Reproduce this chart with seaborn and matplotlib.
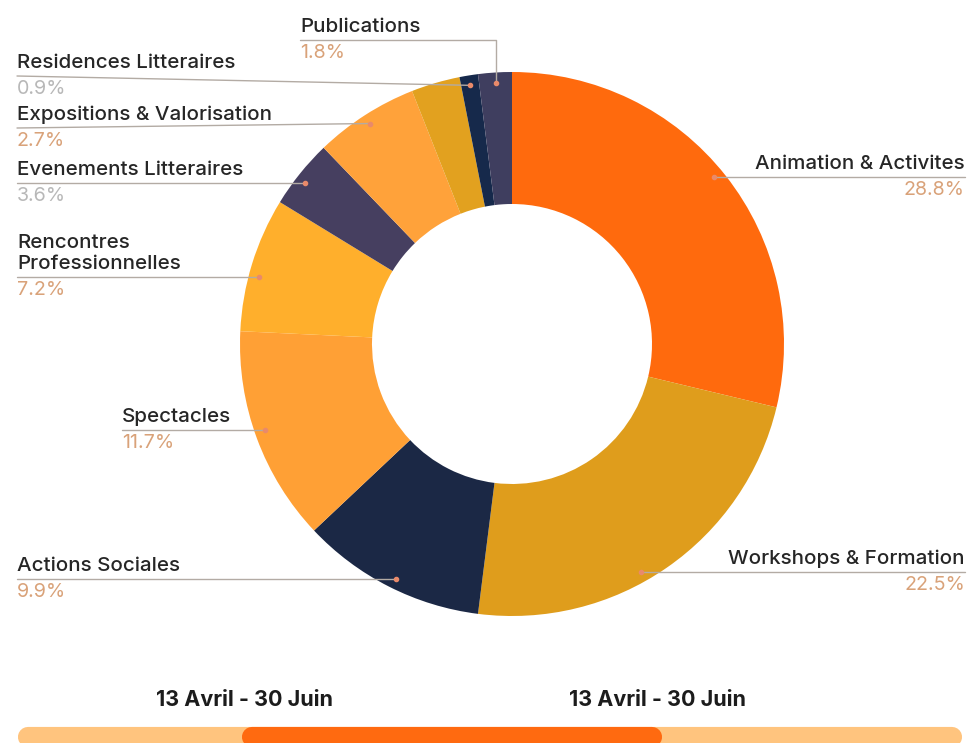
import numpy as np
import seaborn as sns
import matplotlib.pyplot as plt

# tranches du donut, dans le sens horaire depuis midi (parts)
parts = [28.8, 23.3, 11.0, 12.8, 8.0, 4.1, 6.2, 2.9, 1.1, 2.0]
couleurs = ["#FF6A0D", "#DF9D1C", "#1B2845", "#FFA035", "#FFAF2C",
            "#463F60", "#FFA23A", "#E2A11F", "#16294B", "#3F3E5F"]

# étiquettes : indice de tranche, nom, pourcentage affiché
noms = ["Animation & Activites", "Workshops & Formation", "Actions Sociales",
        "Spectacles", "Rencontres\nProfessionnelles", "Evenements Litteraires",
        "Expositions & Valorisation", "Residences Litteraires", "Publications"]
indices = [0, 1, 2, 3, 4, 5, 6, 8, 9]
pourcents = ["28.8%", "22.5%", "9.9%", "11.7%", "7.2%", "3.6%", "2.7%", "0.9%", "1.8%"]

periode = "13 Avril - 30 Juin"

W, H = 969, 743
sns.set_theme(style="white")
plt.rcParams["font.family"] = ["Inter", "DejaVu Sans"]

fig = plt.figure(figsize=(W / 100, H / 100), dpi=100)
ax = fig.add_axes([0, 0, 1, 1])

cx, cy = 512, H - 344
R, r_in = 272, 140
r_pt = 262
wedges, _ = ax.pie(parts, colors=couleurs, startangle=90, counterclock=False,
                   radius=R, center=(cx, cy),
                   wedgeprops=dict(width=R - r_in, edgecolor="none"))

def milieu(i):
    w = wedges[i]
    a = np.deg2rad((w.theta1 + w.theta2) / 2)
    return cx + r_pt * np.cos(a), cy + r_pt * np.sin(a)

def sur_ligne(y, cote):
    dx = np.sqrt(r_pt ** 2 - (y - cy) ** 2)
    return (cx + dx if cote == "d" else cx - dx), y

# placement des étiquettes (x du texte, y de la ligne en px, type de ligne)
places = [(965, 177, "d"), (965, 572, "d"), (17, 579, "g"), (122, 430, "g"),
          (17, 277, "g"), (17, 183, "g"), (17, 128, "m"), (17, 76, "m"),
          (300, 40, "h")]

ligne_col = "#b3aba4"
texte_col = "#262626"
gris = ["3.6%", "0.9%"]

for nom, idx, pc, (tx, ly, mode) in zip(noms, indices, pourcents, places):
    y = H - ly
    if mode in ("d", "g"):
        px, py = sur_ligne(y, mode)
    else:
        px, py = milieu(idx)
    if mode == "h":
        ax.plot([tx, px, px], [y, y, py], color=ligne_col, lw=1, zorder=3)
    else:
        ax.plot([tx, px], [y, py], color=ligne_col, lw=1, zorder=3)
    ha = "right" if mode == "d" else "left"
    ax.plot(px, py, "o", ms=3, color="#e98a6a", zorder=4)
    ax.text(tx, y + 4, nom, ha=ha, va="bottom", fontsize=14.8,
            fontweight="medium", color=texte_col, linespacing=1.2)
    ax.text(tx, y - 4, pc, ha=ha, va="top", fontsize=14.2,
            color="#b8b8b8" if pc in gris else "#d9a279")

# période en bas
for x in [245, 658]:
    ax.text(x, H - 700, periode, ha="center", va="center", fontsize=15.5,
            fontweight="bold", color="#1c1c1c")

# barre de défilement
yb = H - 737
ax.plot([28, 952], [yb, yb], color="#FFC47E", lw=14.5, solid_capstyle="round")
ax.plot([252, 652], [yb, yb], color="#FF6A10", lw=14.5, solid_capstyle="round")

ax.set_xlim(0, W)
ax.set_ylim(0, H)
ax.set_aspect("auto")
ax.axis("off")

fig.savefig("out.png", dpi=100, facecolor="white")
